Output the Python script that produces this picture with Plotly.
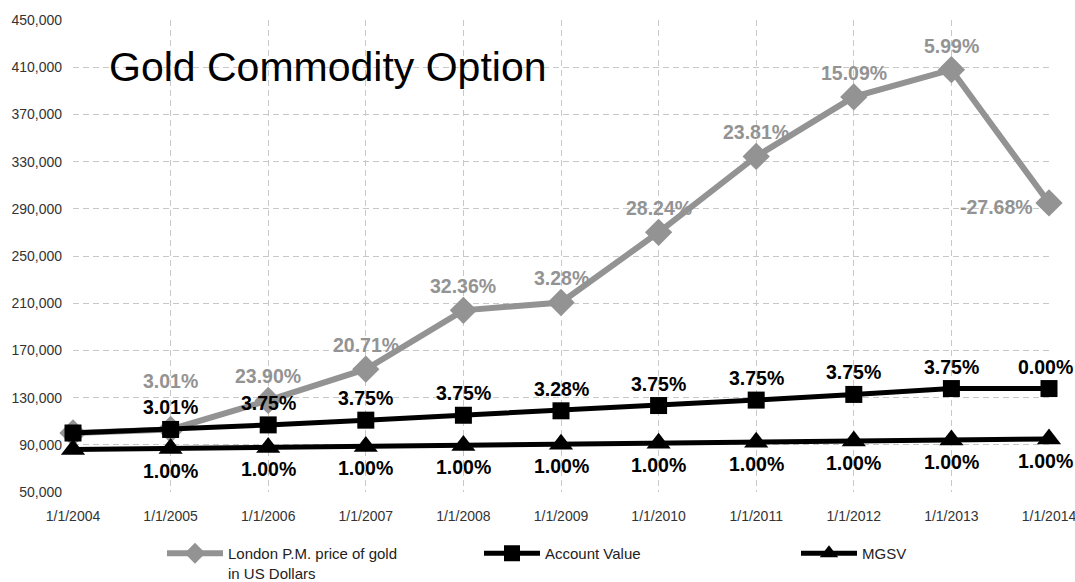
import plotly.graph_objects as go

# ---- data ----
categories = ["1/1/2004", "1/1/2005", "1/1/2006", "1/1/2007", "1/1/2008", "1/1/2009",
              "1/1/2010", "1/1/2011", "1/1/2012", "1/1/2013", "1/1/2014"]
gold_values = [100000, 103010, 127630, 154060, 203920, 210610, 270080, 334390, 384850, 407900, 295000]
account_values = [100000, 103010, 106870, 110880, 115040, 118810, 123270, 127890, 132690, 137660, 137660]
mgsv_values = [86000, 86860, 87730, 88610, 89490, 90390, 91290, 92210, 93130, 94060, 95000]
gold_labels = ["", "3.01%", "23.90%", "20.71%", "32.36%", "3.28%", "28.24%", "23.81%", "15.09%", "5.99%", "-27.68%"]
account_labels = ["", "3.01%", "3.75%", "3.75%", "3.75%", "3.28%", "3.75%", "3.75%", "3.75%", "3.75%", "0.00%"]
mgsv_labels = ["", "1.00%", "1.00%", "1.00%", "1.00%", "1.00%", "1.00%", "1.00%", "1.00%", "1.00%", "1.00%"]
series_names = ["London P.M. price of gold<br>in US Dollars", "Account Value", "MGSV"]
title_text = "Gold Commodity Option"

FONT = "Liberation Sans, Arial, sans-serif"
GREY = "#939393"

# plot-area geometry (px)
L, R, T, B = 73, 26, 20, 90
W, H = 1075, 582
PW, PH = W - L - R, H - T - B

fig = go.Figure()
fig.add_trace(go.Scatter(
    x=categories, y=gold_values, name=series_names[0], mode="lines+markers",
    line=dict(color=GREY, width=6), marker=dict(symbol="diamond", size=21, color=GREY),
    cliponaxis=False))
fig.add_trace(go.Scatter(
    x=categories, y=account_values, name=series_names[1], mode="lines+markers",
    line=dict(color="black", width=5), marker=dict(symbol="square", size=17, color="black"),
    cliponaxis=False))
fig.add_trace(go.Scatter(
    x=categories, y=mgsv_values, name=series_names[2], mode="lines+markers",
    line=dict(color="black", width=5), marker=dict(symbol="triangle-up", size=21, color="black"),
    cliponaxis=False, legendwidth=60))

annos = []
lab_font_g = dict(family=FONT, size=19.5, color=GREY)
lab_font_k = dict(family=FONT, size=19.5, color="black")
n = len(categories)
for i in range(n):
    last = i == n - 1
    if gold_labels[i]:
        if last:
            annos.append(dict(x=categories[i], y=gold_values[i], text="<b>%s</b>" % gold_labels[i],
                              showarrow=False, xanchor="right", yanchor="middle", xshift=-14, yshift=-4,
                              font=lab_font_g))
        else:
            ys = 48 if i == 1 else 24
            annos.append(dict(x=categories[i], y=gold_values[i], text="<b>%s</b>" % gold_labels[i],
                              showarrow=False, xanchor="center", yanchor="middle", yshift=ys,
                              font=lab_font_g))
    if account_labels[i]:
        annos.append(dict(x=categories[i], y=account_values[i], text="<b>%s</b>" % account_labels[i],
                          showarrow=False, xanchor="center", yanchor="middle", yshift=22,
                          xshift=-4 if last else 0, font=lab_font_k))
    if mgsv_labels[i]:
        annos.append(dict(x=categories[i], y=mgsv_values[i], text="<b>%s</b>" % mgsv_labels[i],
                          showarrow=False, xanchor="center", yanchor="middle", yshift=-22,
                          xshift=-4 if last else 0, font=lab_font_k))

annos.append(dict(x=(107 - L) / PW, y=1 - (67 - T) / PH, xref="paper", yref="paper",
                  xanchor="left", yanchor="middle", text=title_text, showarrow=False,
                  font=dict(family=FONT, size=41, color="black")))

fig.update_layout(
    width=W, height=H,
    margin=dict(l=L, r=R, t=T, b=B, autoexpand=False),
    paper_bgcolor="white", plot_bgcolor="white",
    showlegend=True,
    legend=dict(orientation="h", x=(162 - L) / PW, xanchor="left", y=-(537 - (T + PH)) / PH,
                yanchor="top", itemwidth=56, entrywidth=246, valign="top",
                font=dict(family=FONT, size=15, color="#222222"),
                traceorder="normal", itemclick=False, bgcolor="rgba(0,0,0,0)"),
    annotations=annos,
    xaxis=dict(type="category", range=[0, n - 1], showgrid=True, gridcolor="#c8c8c8",
               griddash="6px,4px", gridwidth=1, zeroline=False, showline=False,
               tickfont=dict(family=FONT, size=14, color="#333333"), ticks="",
               ticklabelstandoff=14, automargin=False),
    yaxis=dict(range=[50000, 450000], tick0=50000, dtick=40000, tickformat=",",
               showgrid=True, gridcolor="#c8c8c8", griddash="6px,4px", gridwidth=1,
               zeroline=False, showline=False, ticks="",
               tickfont=dict(family=FONT, size=14, color="#333333"),
               ticklabelstandoff=10, automargin=False),
)

fig.write_html("out.html", config={"displayModeBar": False},
               post_script="document.body.style.margin='0px';")
